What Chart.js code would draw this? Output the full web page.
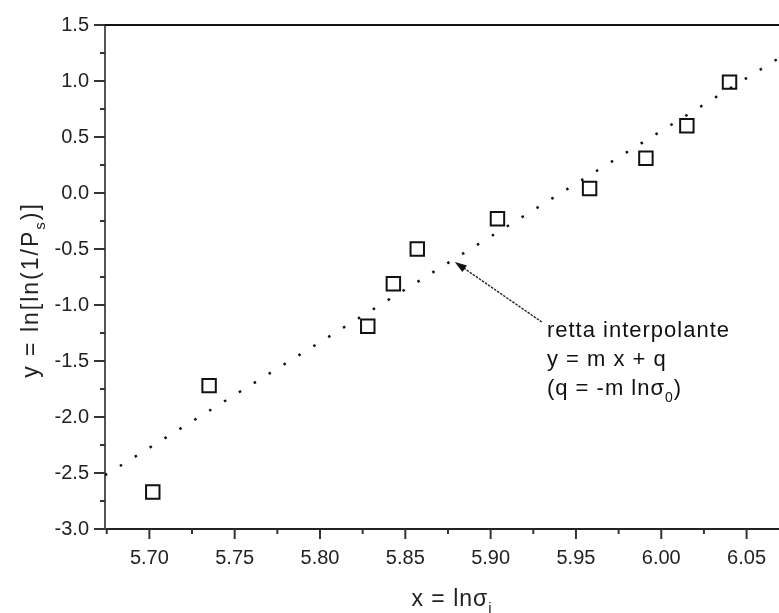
<!DOCTYPE html>
<html>
<head>
<meta charset="utf-8">
<script src="https://cdn.jsdelivr.net/npm/chart.js@4.4.1/dist/chart.umd.min.js"></script>
<style>
    html, body { margin: 0; padding: 0; background: #fff; }
    #wrap { width: 779px; height: 613px; }
</style>
</head>
<body>
<div id="wrap"><canvas id="chart" width="779" height="613"></canvas></div>
<script>
// measured points: x = ln(sigma_i), y = ln[ln(1/P_s)]
const xValues = [5.702, 5.735, 5.828, 5.843, 5.857, 5.904, 5.958, 5.991, 6.015, 6.040];
const yValues = [-2.67, -1.72, -1.19, -0.81, -0.50, -0.23, 0.04, 0.31, 0.60, 0.99];

// dotted interpolation line (ends)
const fitX = [5.674, 6.069];
const fitY = [-2.52, 1.205];

// axis ranges / steps
const xRange = [5.674, 6.069];
const yRange = [-3.0, 1.5];
const xMinorStep = 0.025;
const yMinorStep = 0.25;

// annotation: arrow from text to line, text block
const arrowTip = { x: 5.879, y: -0.615 };
const arrowTail = { x: 5.930, y: -1.152 };
const noteAnchor = { x: 5.933, y: -1.29 };
const noteLines = [
    [{ t: 'retta interpolante' }],
    [{ t: 'y = m x + q' }],
    [{ t: '(q = -m ln\u03C3' }, { t: '0', sub: true }, { t: ')' }]
];

const xTitle = [{ t: 'x = ln\u03C3' }, { t: 'i', sub: true }];
const yTitle = [{ t: 'y = ln[ln(1/P' }, { t: 's', sub: true }, { t: ')]' }];

const FONT = '"Liberation Sans", Arial, sans-serif';

function isMajor(v, step) {
    let r = v / step;
    return Math.abs(r - Math.round(r)) < 1e-6;
}

// draws text made of normal + subscript pieces, starting at x (left aligned)
function drawRich(ctx, parts, x, y, size) {
    let cx = x;
    parts.forEach(p => {
        if (p.sub) {
            ctx.font = `${Math.round(size * 0.65)}px ${FONT}`;
            ctx.fillText(p.t, cx, y + size * 0.3);
        } else {
            ctx.font = `${size}px ${FONT}`;
            ctx.fillText(p.t, cx, y);
        }
        cx += ctx.measureText(p.t).width;
    });
    return cx - x;
}

function richWidth(ctx, parts, size) {
    let w = 0;
    parts.forEach(p => {
        ctx.font = p.sub ? `${Math.round(size * 0.65)}px ${FONT}` : `${size}px ${FONT}`;
        w += ctx.measureText(p.t).width;
    });
    return w;
}

const decorPlugin = {
    id: 'decor',
    afterDraw(chart) {
        const ctx = chart.ctx;
        const area = chart.chartArea;
        const xs = chart.scales.x, ys = chart.scales.y;
        ctx.save();

        // top frame line
        ctx.strokeStyle = '#111';
        ctx.lineWidth = 2;
        ctx.beginPath();
        ctx.moveTo(area.left - 1, area.top);
        ctx.lineTo(chart.width, area.top);
        ctx.stroke();

        // outward ticks, major + minor
        ctx.strokeStyle = '#333';
        ctx.lineWidth = 2;
        xs.ticks.forEach(t => {
            const px = xs.getPixelForValue(t.value);
            const len = isMajor(t.value, 0.05) ? 10 : 5;
            ctx.beginPath();
            ctx.moveTo(px, area.bottom);
            ctx.lineTo(px, area.bottom + len);
            ctx.stroke();
        });
        ys.ticks.forEach(t => {
            const py = ys.getPixelForValue(t.value);
            const len = isMajor(t.value, 0.5) ? 11 : 5;
            ctx.beginPath();
            ctx.moveTo(area.left, py);
            ctx.lineTo(area.left - len, py);
            ctx.stroke();
        });

        // arrow
        const tx = xs.getPixelForValue(arrowTip.x), ty = ys.getPixelForValue(arrowTip.y);
        const sx = xs.getPixelForValue(arrowTail.x), sy = ys.getPixelForValue(arrowTail.y);
        const ang = Math.atan2(ty - sy, tx - sx);
        ctx.strokeStyle = '#222';
        ctx.lineWidth = 1.4;
        ctx.setLineDash([2.5, 1.2]);
        ctx.beginPath();
        ctx.moveTo(sx, sy);
        ctx.lineTo(tx - Math.cos(ang) * 8, ty - Math.sin(ang) * 8);
        ctx.stroke();
        ctx.setLineDash([]);
        ctx.fillStyle = '#111';
        ctx.beginPath();
        ctx.moveTo(tx, ty);
        ctx.lineTo(tx - Math.cos(ang) * 12 + Math.sin(ang) * 4, ty - Math.sin(ang) * 12 - Math.cos(ang) * 4);
        ctx.lineTo(tx - Math.cos(ang) * 12 - Math.sin(ang) * 4, ty - Math.sin(ang) * 12 + Math.cos(ang) * 4);
        ctx.closePath();
        ctx.fill();

        // annotation text
        ctx.fillStyle = '#111';
        ctx.textBaseline = 'alphabetic';
        ctx.textAlign = 'left';
        ctx.letterSpacing = '1px';
        const nx = xs.getPixelForValue(noteAnchor.x), ny = ys.getPixelForValue(noteAnchor.y);
        noteLines.forEach((line, i) => drawRich(ctx, line, nx, ny + i * 29, 22));

        // axis titles
        ctx.fillStyle = '#222';
        const xw = richWidth(ctx, xTitle, 23);
        drawRich(ctx, xTitle, 452 - xw / 2, chart.height - 7, 23);

        ctx.letterSpacing = '2px';
        ctx.translate(38, 290);
        ctx.rotate(-Math.PI / 2);
        const yw = richWidth(ctx, yTitle, 23);
        drawRich(ctx, yTitle, -yw / 2, 0, 23);
        ctx.letterSpacing = '0px';

        ctx.restore();
    }
};

new Chart(document.getElementById('chart'), {
    type: 'scatter',
    data: {
        datasets: [
            {
                label: 'fit',
                type: 'line',
                data: fitX.map((x, i) => ({ x: x, y: fitY[i] })),
                borderColor: '#111',
                borderWidth: 2.5,
                borderDash: [2.5, 15],
                pointRadius: 0,
                fill: false,
                tension: 0,
            },
            {
                label: 'dati',
                data: xValues.map((x, i) => ({ x: x, y: yValues[i] })),
                pointStyle: 'rect',
                pointRadius: 9.5,
                pointBorderWidth: 2,
                pointBorderColor: '#111',
                pointBackgroundColor: 'rgba(255,255,255,0)',
            }
        ]
    },
    options: {
        responsive: false,
        animation: false,
        events: [],
        layout: { autoPadding: false, padding: { top: 25, right: 0, left: 0, bottom: 0 } },
        plugins: { legend: { display: false }, tooltip: { enabled: false } },
        scales: {
            x: {
                type: 'linear',
                min: xRange[0],
                max: xRange[1],
                afterFit: (s) => { s.height = 84; s.paddingLeft = 0; s.paddingRight = 0; },
                grid: { display: false, drawTicks: false },
                border: { display: true, color: '#222', width: 2 },
                ticks: {
                    stepSize: xMinorStep,
                    includeBounds: false,
                    autoSkip: false,
                    maxRotation: 0,
                    padding: 17,
                    color: '#222',
                    font: { family: FONT, size: 20 },
                    callback: (v) => isMajor(v, 0.05) ? v.toFixed(2) : ''
                }
            },
            y: {
                type: 'linear',
                min: yRange[0],
                max: yRange[1],
                afterFit: (s) => { s.width = 105; s.paddingTop = 0; s.paddingBottom = 0; },
                grid: { display: false, drawTicks: false },
                border: { display: true, color: '#555', width: 2 },
                ticks: {
                    stepSize: yMinorStep,
                    autoSkip: false,
                    padding: 16,
                    color: '#222',
                    font: { family: FONT, size: 20 },
                    callback: (v) => isMajor(v, 0.5) ? v.toFixed(1) : ''
                }
            }
        }
    },
    plugins: [decorPlugin]
});
</script>
</body>
</html>
